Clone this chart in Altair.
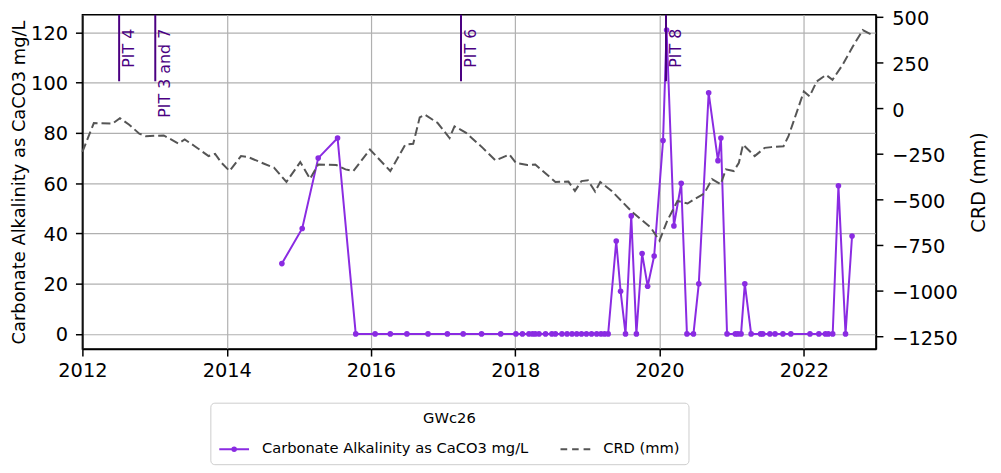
import altair as alt
import pandas as pd

# ---------------- data ----------------
carb_dates = [
    "2014-10-07", "2015-01-18", "2015-04-09", "2015-07-16", "2015-10-16",
    "2016-01-22", "2016-04-08", "2016-07-01", "2016-10-16", "2017-01-22",
    "2017-04-12", "2017-07-14", "2017-10-19", "2018-01-04", "2018-02-06",
    "2018-03-11", "2018-03-29", "2018-04-12", "2018-05-01", "2018-06-03",
    "2018-07-05", "2018-07-23", "2018-08-25", "2018-09-20", "2018-10-15",
    "2018-11-08", "2018-12-02", "2018-12-27", "2019-01-22", "2019-02-17",
    "2019-03-11", "2019-03-29", "2019-04-16", "2019-05-27", "2019-06-18",
    "2019-07-13", "2019-08-11", "2019-09-06", "2019-10-05", "2019-11-02",
    "2019-12-05", "2020-01-19", "2020-02-06", "2020-03-14", "2020-04-20",
    "2020-05-19", "2020-06-21", "2020-07-18", "2020-09-06", "2020-10-23",
    "2020-11-07", "2020-12-08", "2021-01-19", "2021-02-01", "2021-02-17",
    "2021-03-08", "2021-04-09", "2021-05-27", "2021-06-07", "2021-07-13",
    "2021-08-08", "2021-09-17", "2021-10-27", "2022-02-01", "2022-03-18",
    "2022-04-20", "2022-05-05", "2022-05-27", "2022-06-25", "2022-07-31",
    "2022-09-02",
]
carb_values = [
    28, 42, 70, 78, 0,
    0, 0, 0, 0, 0,
    0, 0, 0, 0, 0,
    0, 0, 0, 0, 0,
    0, 0, 0, 0, 0,
    0, 0, 0, 0, 0,
    0, 0, 0, 37, 17,
    0, 47, 0, 32, 19,
    31, 77, 121, 43, 60,
    0, 0, 20, 96, 69,
    78, 0, 0, 0, 0,
    20, 0, 0, 0, 0,
    0, 0, 0, 0, 0,
    0, 0, 0, 59, 0,
    39,
]

crd_dates = [
    "2012-01-01", "2012-02-28", "2012-06-02", "2012-07-09", "2012-08-25",
    "2012-10-15", "2012-11-17", "2013-02-16", "2013-05-01", "2013-06-02",
    "2013-07-23", "2013-10-01", "2013-11-03", "2013-12-05", "2014-01-15",
    "2014-03-14", "2014-04-20", "2014-07-09", "2014-08-29", "2014-10-30",
    "2015-01-08", "2015-02-27", "2015-04-09", "2015-07-09", "2015-08-25",
    "2015-10-04", "2015-12-27", "2016-04-08", "2016-06-23", "2016-08-02",
    "2016-09-04", "2016-09-30", "2016-12-04", "2017-02-02", "2017-02-27",
    "2017-04-27", "2017-07-20", "2017-09-23", "2017-12-02", "2018-01-04",
    "2018-03-03", "2018-04-12", "2018-07-23", "2018-09-27", "2018-10-30",
    "2018-12-02", "2019-01-04", "2019-02-09", "2019-03-07", "2019-05-04",
    "2019-08-18", "2019-11-17", "2020-01-01", "2020-02-09", "2020-04-01",
    "2020-05-22", "2020-06-24", "2020-08-14", "2020-09-23", "2020-11-06",
    "2020-12-02", "2021-01-11", "2021-02-06", "2021-02-27", "2021-04-27",
    "2021-06-17", "2021-07-20", "2021-09-20", "2021-10-15", "2021-11-10",
    "2022-01-01", "2022-01-30", "2022-03-07", "2022-04-23", "2022-05-26",
    "2022-07-16", "2022-09-05", "2022-10-26", "2022-12-05",
]
crd_values = [
    -240, -82, -85, -55, -91,
    -140, -154, -150, -194, -172,
    -209, -263, -251, -300, -345,
    -263, -269, -305, -327, -405,
    -296, -388, -309, -312, -336,
    -345, -227, -345, -200, -196,
    -51, -36, -82, -164, -100,
    -136, -218, -287, -254, -300,
    -312, -309, -405, -403, -454,
    -400, -396, -458, -405, -454,
    -572, -654, -727, -618, -509,
    -523, -500, -469, -390, -418,
    -336, -345, -300, -200, -263,
    -218, -214, -209, -154, -73,
    91, 64, 146, 182, 155,
    237, 336, 427, 405,
]

pit_dates = ["2012-07-05", "2013-01-04", "2017-04-01", "2020-02-03"]
pit_labels = ["PIT 4", "PIT 3 and 7", "PIT 6", "PIT 8"]

series_names = ["Carbonate Alkalinity as CaCO3 mg/L", "CRD (mm)"]
left_ticks = [0, 20, 40, 60, 80, 100, 120]
right_ticks = [-1250, -1000, -750, -500, -250, 0, 250, 500]

# ---------------- styles ----------------
PURPLE = "#8a2be2"
GRAY = "#555555"
PIT_COLOR = "#4b0082"
FONT = "DejaVu Sans"

carb = pd.DataFrame({"date": carb_dates, "value": carb_values})
crd = pd.DataFrame({"date": crd_dates, "value": crd_values})
pits = pd.DataFrame({"date": pit_dates, "label": pit_labels})
legend_df = pd.DataFrame({"series": series_names})

x_scale = alt.Scale(domain=[alt.DateTime(year=2012, month=1, date=1),
                            alt.DateTime(year=2023, month=1, date=1)], nice=False)
x_axis = alt.Axis(title=None, format="%Y", tickCount=alt.TimeIntervalStep(interval="year", step=2),
                  grid=True, labelPadding=6, labelFlush=False)
y_left_scale = alt.Scale(domain=[-6.05, 127.05], nice=False, zero=False)
y_left_axis = alt.Axis(title="Carbonate Alkalinity as CaCO3 mg/L", values=left_ticks, grid=True,
                       labelPadding=8, titlePadding=2, titleFontSize=18, labelOffset=1)

X = alt.X("date:T", scale=x_scale, axis=x_axis)
Y_LEFT = alt.Y("value:Q", scale=y_left_scale, axis=y_left_axis)

carb_line = alt.Chart(carb).mark_line(color=PURPLE, strokeWidth=2).encode(x=X, y=Y_LEFT)
carb_pts = alt.Chart(carb).mark_circle(color=PURPLE, size=32, opacity=1).encode(x=X, y=Y_LEFT)

pit_rules = alt.Chart(pits).mark_rule(color=PIT_COLOR, strokeWidth=2).encode(
    x=X, y=alt.datum(100.6, scale=y_left_scale, axis=y_left_axis), y2=alt.value(0))
pit_text = alt.Chart(pits).mark_text(
    color=PIT_COLOR, angle=270, align="right", baseline="top", dy=2, fontSize=16, font=FONT
).encode(x=X, y=alt.value(14), text="label:N")

line_path = ("M-1,0L1,0M-0.12,0A0.12,0.12,0,1,1,0.12,0A0.12,0.12,0,1,1,-0.12,0"
             "M-0.05,0A0.05,0.05,0,1,1,0.05,0A0.05,0.05,0,1,1,-0.05,0")
dash_path = "M-1,0L-0.55,0M-0.22,0L0.22,0M0.55,0L1,0"

leg = alt.Legend(
    title="GWc26", orient="none", legendX=129, legendY=391, direction="horizontal", columns=2,
    titleAnchor="middle", titleFontWeight="normal", titleFontSize=14.8, labelFontSize=14.8,
    titleFont=FONT, labelFont=FONT, titleColor="black", labelColor="black", labelLimit=500,
    symbolSize=900, symbolStrokeWidth=2, strokeColor="#cccccc", cornerRadius=4,
    padding=8, fillColor="white", columnPadding=28, labelOffset=12, titlePadding=8,
)
legend_layer = alt.Chart(legend_df).transform_filter("false").mark_point(
    filled=False, opacity=1, strokeWidth=2
).encode(
    color=alt.Color("series:N", scale=alt.Scale(domain=series_names, range=[PURPLE, GRAY]), legend=leg),
    shape=alt.Shape("series:N", scale=alt.Scale(domain=series_names, range=[line_path, dash_path]), legend=leg),
)

left = alt.layer(carb_line, carb_pts, pit_rules, pit_text, legend_layer)

crd_line = alt.Chart(crd).mark_line(color=GRAY, strokeWidth=2, strokeDash=[9, 4]).encode(
    x=X,
    y=alt.Y("value:Q", scale=alt.Scale(domain=[-1321, 511], nice=False, zero=False),
            axis=alt.Axis(title="CRD (mm)", orient="right", values=right_ticks, grid=False, format="d",
                          labelPadding=9, titlePadding=12, titleAngle=270, titleBaseline="top",
                          labelOffset=2)),
)

chart = alt.layer(left, crd_line).resolve_scale(y="independent").properties(
    width=800, height=337,
    autosize=alt.AutoSizeParams(type="none"),
    padding={"left": 75, "top": 5, "right": 118, "bottom": 123},
).configure(font=FONT).configure_view(
    stroke="black", strokeWidth=1.5
).configure_axis(
    domainColor="black", domainWidth=1.5, tickColor="black", tickWidth=1.5, tickSize=7,
    labelFontSize=19.5, titleFontSize=19.5, titleFontWeight="normal", labelColor="black",
    titleColor="black", labelFont=FONT, titleFont=FONT, gridColor="#b0b0b0", gridWidth=1.2,
)

chart.save("out.html", embed_options={"renderer": "svg", "actions": False})
